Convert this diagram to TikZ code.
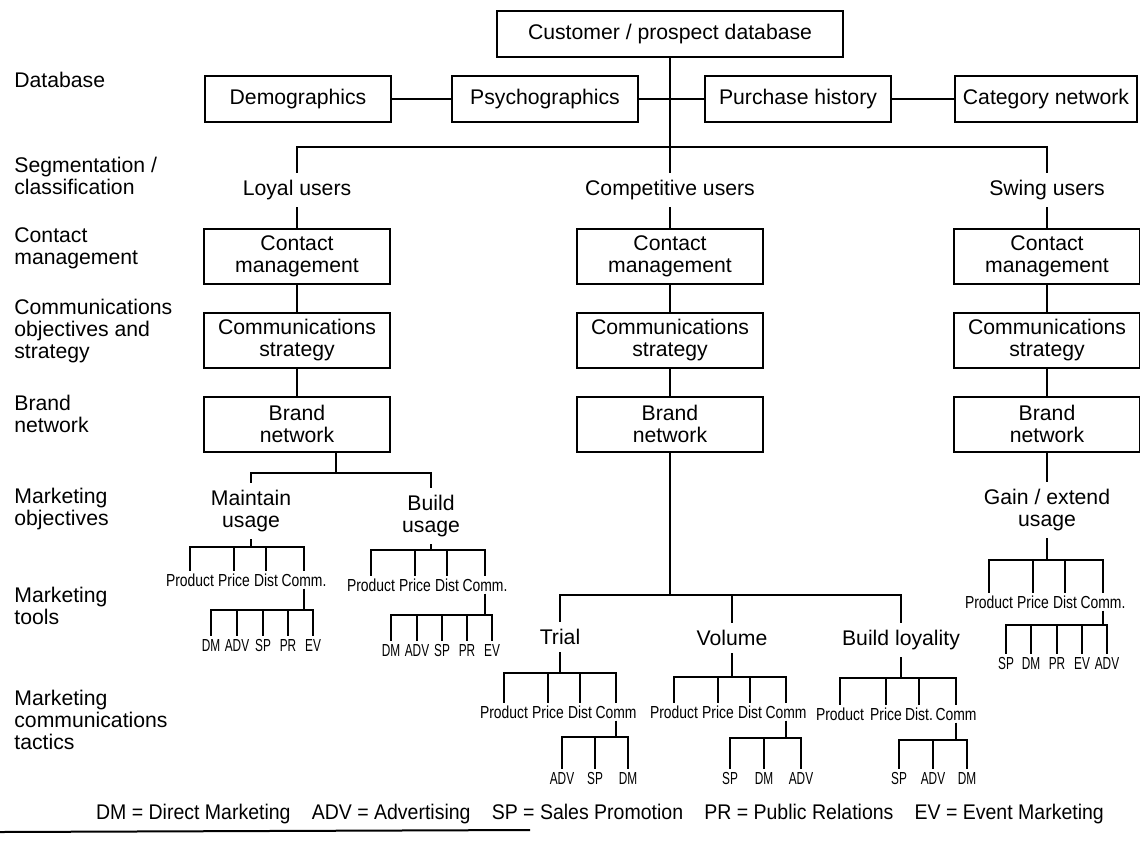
\documentclass[tikz,border=0pt]{standalone}
\usepackage{fontspec}
\setmainfont{Liberation Sans}
\newfontfamily\toolfont{Liberation Sans}[FakeStretch=0.8]
\newfontfamily\tacticfont{Liberation Sans}[FakeStretch=0.68]
\newfontfamily\keyfont{Liberation Sans}[FakeStretch=0.92]
\usetikzlibrary{calc}
\newcommand{\mainsize}{\fontsize{10.6}{11}\selectfont}
\tikzset{
  link/.style={line width=1pt},
  box/.style={draw, line width=1pt, minimum width=93pt, minimum height=27.5pt, align=center, inner sep=2pt, font=\mainsize},
  dbbox/.style={box, minimum height=23pt},
  txt/.style={align=center, inner sep=3.5pt, font=\mainsize},
  rowlabel/.style={anchor=west, align=left, inner sep=0pt, font=\mainsize},
  tool/.style={inner sep=1pt, text height=6.3pt, text depth=0pt, font=\toolfont\fontsize{8.7}{9}\selectfont},
  tactic/.style={tool, font=\tacticfont\fontsize{8.7}{9}\selectfont},
}
% #1 style, #2 name, #3 parent, #4 bar y, #5 label y, #6 list x/label
\newcommand{\toolrow}[6][tool]{%
  \coordinate (#2bar) at (#3.center |- 0,#4);
  \draw[link] (#3) -- (#2bar);
  \foreach \x/\lab [count=\i] in {#6} {
    \node[#1] (#2\i) at (\x,#5) {\lab};
    \draw[link] (#2bar) -| (#2\i);
  }
}

\begin{document}
\begin{tikzpicture}[x=0.5pt, y=-0.5pt]
\useasboundingbox (0,0) rectangle (1140,842);
% row labels
\node[rowlabel] (rDb) at (14,80) {Database};
\node[rowlabel] (rSeg) at (14,176) {Segmentation /\\classification};
\node[rowlabel] (rCont) at (14,248) {Contact\\management};
\node[rowlabel] (rComm) at (14,331) {Communications\\objectives and\\strategy};
\node[rowlabel] (rBrand) at (14,414) {Brand\\network};
\node[rowlabel] (rObj) at (14,509) {Marketing\\objectives};
\node[rowlabel] (rTools) at (14,606) {Marketing\\tools};
\node[rowlabel] (rTact) at (14,720) {Marketing\\communications\\tactics};

% database
\node[box, minimum width=173pt, minimum height=23pt] (cust) at (670,34) {Customer / prospect database};
\node[dbbox] (demo) at (298,99) {Demographics};
\node[dbbox] (psych) at (545,99) {Psychographics};
\node[dbbox] (purch) at (798,99) {Purchase history};
\node[dbbox, minimum width=91pt] (categ) at (1046,99) {Category network};
\draw[link] (demo) -- (psych);
\draw[link] (psych) -- (purch);
\draw[link] (purch) -- (categ);

% segments
\node[txt] (loyal) at (297,190) {Loyal users};
\node[txt] (compet) at (670,190) {Competitive users};
\node[txt] (swing) at (1047,190) {Swing users};
\coordinate (seg) at (670,147);
\draw[link] (cust) -- (compet);
\draw[link] (loyal) |- (seg) -| (swing);

\foreach \c/\x in {L/297, M/670, R/1047} {
  \node[box] (contact\c) at (\x,256) {Contact\\management};
  \node[box] (comm\c) at (\x,340) {Communications\\strategy};
  \node[box] (brand\c) at (\x,424) {Brand\\network};
  \draw[link] (contact\c) -- (comm\c) -- (brand\c);
}
\draw[link] (loyal) -- (contactL);
\draw[link] (compet) -- (contactM);
\draw[link] (swing) -- (contactR);

% loyal users
\coordinate (forkL) at (336,473);
\node[txt] (maint) at (251,511) {Maintain\\usage};
\node[txt] (buildu) at (431,516) {Build\\usage};
\draw[link] (brandL.south -| forkL) -- (forkL);
\draw[link] (maint) |- (forkL) -| (buildu);
\toolrow{m}{maint}{547}{580}{190/Product, 234/Price, 266/Dist, 304/Comm.}
\toolrow[tactic]{mc}{m4}{610}{645}{211/DM, 237/ADV, 263/SP, 288/PR, 313/EV}
\toolrow{b}{buildu}{550}{585}{371/Product, 415/Price, 447/Dist, 485/Comm.}
\toolrow[tactic]{bc}{b4}{615}{650}{391/DM, 417/ADV, 442/SP, 467/PR, 492/EV}

% competitive users
\coordinate (forkM) at (670,595);
\node[txt] (trial) at (560,637) {Trial};
\node[txt] (volume) at (732,638) {Volume};
\node[txt] (bloyal) at (901,640) {Build loyality};
\draw[link] (brandM) -- (forkM);
\draw[link] (trial) |- (forkM) -| (bloyal);
\draw[link] (volume) -- (volume |- forkM);
\toolrow{t}{trial}{673}{712}{504/Product, 548/Price, 580/Dist, 616/Comm}
\toolrow[tactic]{tc}{t4}{737}{778}{562/ADV, 595/SP, 628/DM}
\toolrow{v}{volume}{677}{712}{674/Product, 718/Price, 750/Dist, 786/Comm}
\toolrow[tactic]{vc}{v4}{738}{778}{730/SP, 764/DM, 801/ADV}
\toolrow{l}{bloyal}{678}{714}{840/Product, 886/Price, 919/Dist., 956/Comm}
\toolrow[tactic]{lc}{l4}{740}{778}{899/SP, 933/ADV, 967/DM}

% swing users
\node[txt] (gain) at (1047,510) {Gain / extend\\usage};
\draw[link] (brandR) -- (gain);
\toolrow{g}{gain}{560}{602}{989/Product, 1033/Price, 1065/Dist, 1103/Comm.}
\toolrow[tactic]{gc}{g4}{625}{663}{1006/SP, 1031/DM, 1057/PR, 1082/EV, 1107/ADV}

% key
\node[font=\keyfont\fontsize{10.6}{11}\selectfont] (key) at (600,814) {DM = Direct Marketing\quad ADV = Advertising\quad SP = Sales Promotion\quad PR = Public Relations\quad EV = Event Marketing};
\draw[line width=1pt] (0,832) -- (530,830);
\end{tikzpicture}
\end{document}
